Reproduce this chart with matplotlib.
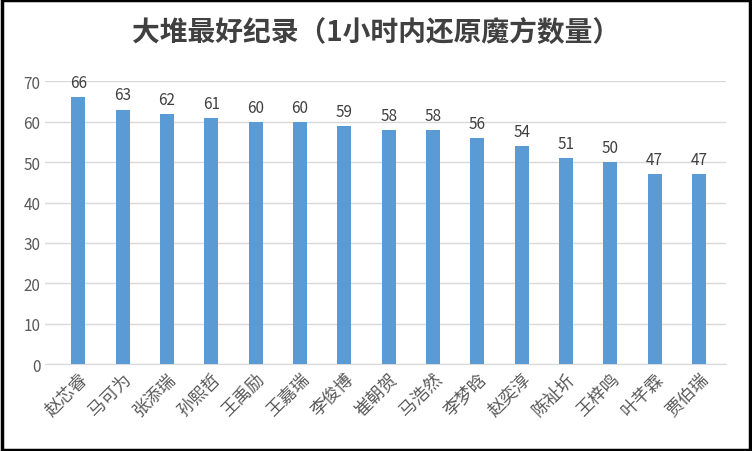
import matplotlib
matplotlib.use("Agg")
import matplotlib.pyplot as plt
from matplotlib.patches import Rectangle

names = ["赵芯睿","马可为","张添瑞","孙熙哲","王禹励","王嘉瑞","李俊博","崔朝贺","马浩然","李梦晗","赵奕淳","陈祉圻","王梓鸣","叶芊霖","贾伯瑞"]
values = [66,63,62,61,60,60,59,58,58,56,54,51,50,47,47]
title = "大堆最好纪录（1小时内还原魔方数量）"

plt.rcParams["font.family"] = "Noto Sans CJK SC"
fig = plt.figure(figsize=(7.52,4.52), dpi=100)
ax = fig.add_axes([0.06, 0.192, 0.905, 0.626])
x = range(len(names))
ax.bar(x, values, width=0.32, color="#5B9BD5", zorder=3)
for i, v in zip(x, values):
    ax.text(i, v+1.5, str(v), ha="center", va="bottom", fontsize=11, color="#404040")
ax.set_ylim(0,70)
ax.set_xlim(-0.75, len(names)-0.4)
ax.set_yticks(range(0,71,10))
ax.grid(axis="y", color="#D9D9D9", linewidth=1, zorder=0)
for s in ["top","right","left"]:
    ax.spines[s].set_visible(False)
ax.spines["bottom"].set_color("#D9D9D9")
ax.tick_params(axis="both", length=0, labelsize=11, colors="#595959")
ax.set_xticks(list(x))
ax.set_xticklabels(names, rotation=45, ha="right", rotation_mode="anchor", fontsize=12.5, color="#595959")
fig.text(0.5, 0.925, title, ha="center", va="center", fontsize=20, fontweight="bold", color="#404040")
fig.patches.append(Rectangle((0.002,0.003),0.995,0.994, transform=fig.transFigure, fill=False, edgecolor="black", linewidth=2.5))
fig.savefig("out.png", dpi=100)
